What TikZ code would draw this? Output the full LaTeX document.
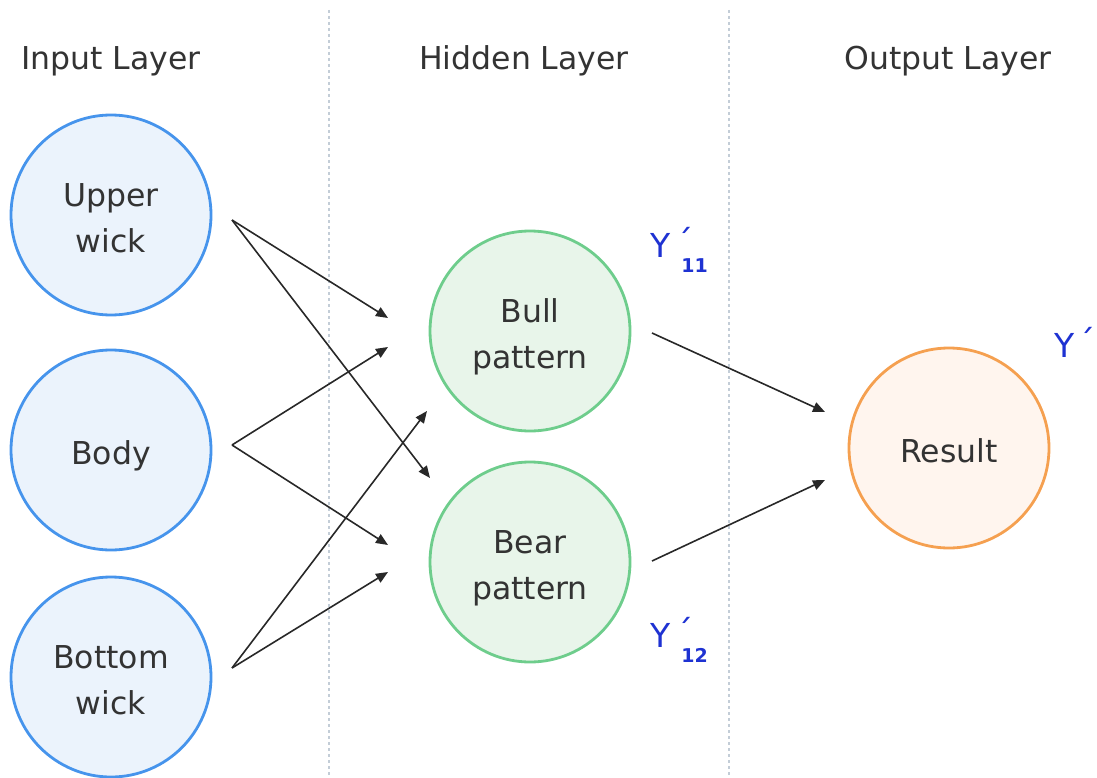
\documentclass[tikz,border=0pt]{standalone}
\usepackage{fontspec}
\setmainfont{DejaVu Sans}
\usetikzlibrary{arrows.meta}
\definecolor{txt}{RGB}{51,51,51}
\definecolor{bluestroke}{RGB}{70,148,236}
\definecolor{bluefill}{RGB}{235,243,252}
\definecolor{greenstroke}{RGB}{110,205,140}
\definecolor{greenfill}{RGB}{232,245,234}
\definecolor{orangestroke}{RGB}{245,160,80}
\definecolor{orangefill}{RGB}{255,245,238}
\definecolor{sep}{RGB}{195,205,215}
\definecolor{ylab}{RGB}{30,50,210}
\definecolor{arr}{RGB}{40,40,40}
\newcommand{\ntext}[1]{\raisebox{-5pt}[\height][\depth]{\begin{tabular}{@{}c@{}}#1\end{tabular}}}
\newcommand{\yacc}{\raisebox{3pt}{\fontsize{34}{38}\selectfont ´}}
\newcommand{\ysubtxt}[1]{\raisebox{-15pt}{\bfseries\fontsize{19}{20}\selectfont #1}}
\tikzset{
  neuron/.style={circle, minimum size=200pt, inner sep=0pt, line width=2.8pt,
    font=\fontsize{31.5}{46}\selectfont, text=txt},
  inp/.style={neuron, draw=bluestroke, fill=bluefill},
  hid/.style={neuron, draw=greenstroke, fill=greenfill},
  outn/.style={neuron, draw=orangestroke, fill=orangefill},
  title/.style={font=\fontsize{31.5}{36}\selectfont, text=txt},
  conn/.style={draw=arr, line width=1.6pt, -{Triangle[length=12pt,width=10pt]}},
  sepline/.style={draw=sep, line width=1.2pt, dash pattern=on 3pt off 3pt},
  ylabel/.style={font=\fontsize{33}{36}\selectfont, text=ylab, inner sep=0pt, anchor=base west}
}
\begin{document}
\begin{tikzpicture}[x=1pt,y=-1pt]
\useasboundingbox (0,0) rectangle (1097,778);
% separators
\coordinate (s1t) at (329,10); \coordinate (s1b) at (329,778);
\coordinate (s2t) at (729,10); \coordinate (s2b) at (729,778);
\draw[sepline] (s1t) -- (s1b);
\draw[sepline] (s2t) -- (s2b);
% titles
\node[title] (t1) at (111,61) {Input Layer};
\node[title] (t2) at (524,61) {Hidden Layer};
\node[title] (t3) at (948,61) {Output Layer};
% neurons
\node[inp] (upper) at (111,215) {\ntext{Upper\\wick}};
\node[inp] (body) at (111,450) {\ntext{Body}};
\node[inp] (bottom) at (111,677) {\ntext{Bottom\\wick}};
\node[hid] (bull) at (530,331) {\ntext{Bull\\pattern}};
\node[hid] (bear) at (530,562) {\ntext{Bear\\pattern}};
\node[outn] (result) at (949,448) {\ntext{Result}};
% connector endpoints
\coordinate (uo) at (232,220);
\coordinate (bo) at (232,445);
\coordinate (wo) at (232,668);
\coordinate (bullin1) at (388,318);
\coordinate (bullin2) at (388,347);
\coordinate (bullin3) at (427,411);
\coordinate (bearin1) at (430,478);
\coordinate (bearin2) at (388,545);
\coordinate (bearin3) at (388,572);
\coordinate (bullout) at (652,333);
\coordinate (bearout) at (652,561);
\coordinate (resin1) at (825,412);
\coordinate (resin2) at (825,480);
\draw[conn] (uo) -- (bullin1);
\draw[conn] (uo) -- (bearin1);
\draw[conn] (bo) -- (bullin2);
\draw[conn] (bo) -- (bearin2);
\draw[conn] (wo) -- (bullin3);
\draw[conn] (wo) -- (bearin3);
\draw[conn] (bullout) -- (resin1);
\draw[conn] (bearout) -- (resin2);
% labels
\node[ylabel] (y11) at (650,257) {Y\kern6pt\yacc\kern-12pt\ysubtxt{11}};
\node[ylabel] (y12) at (650,647) {Y\kern6pt\yacc\kern-12pt\ysubtxt{12}};
\node[ylabel] (yo) at (1054,357) {Y\kern4pt\yacc};
\end{tikzpicture}
\end{document}
